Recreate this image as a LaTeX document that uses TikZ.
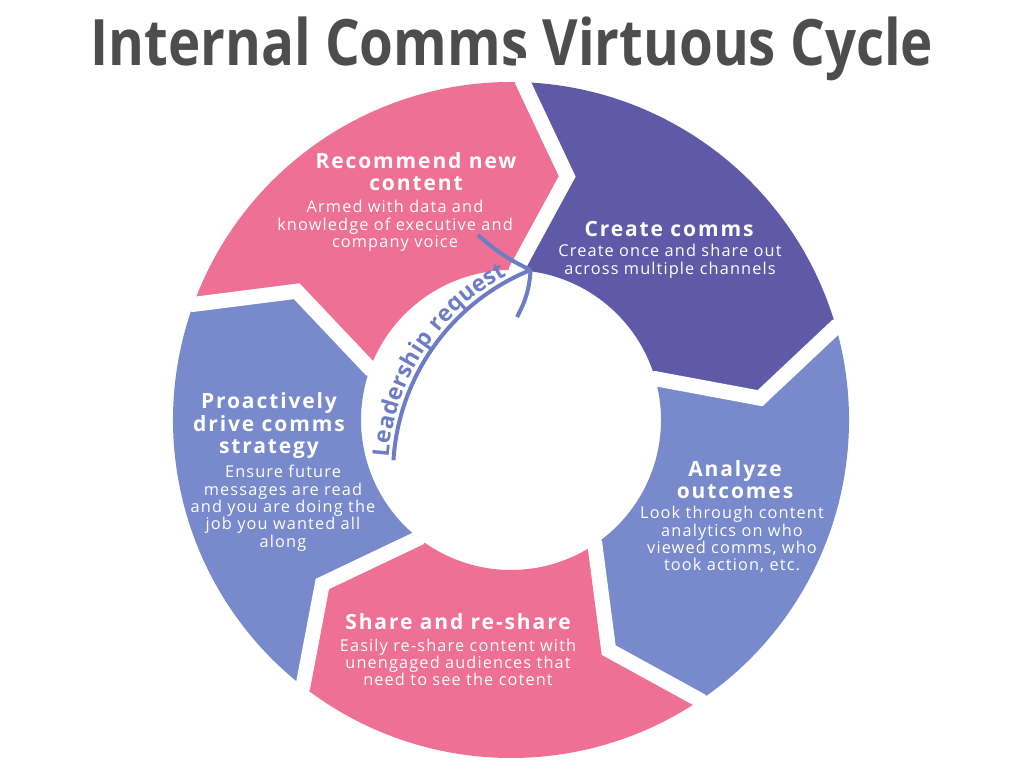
\documentclass[tikz,border=0pt]{standalone}
\usepackage{fontspec}
\usepackage{graphicx}
\setmainfont{Open Sans}
\newfontfamily\headfont[LetterSpace=9]{Open Sans}
\newfontfamily\descfont[LetterSpace=7]{Open Sans}
\newfontfamily\arcfont[LetterSpace=3]{Open Sans}
\usetikzlibrary{decorations.text,calc}
\definecolor{cpink}{HTML}{EE7094}
\definecolor{cpurple}{HTML}{5F5AA8}
\definecolor{cblue}{HTML}{7889CC}
\definecolor{carc}{HTML}{6C7DC6}
\definecolor{ctitle}{HTML}{4D4D4D}
\newcommand\mlines[1]{\begin{tabular}[t]{@{}c@{}}#1\end{tabular}}
\begin{document}
\begin{tikzpicture}[x=1pt,y=1pt,
  head/.style={text=white, font=\headfont\bfseries\fontsize{21}{22}\selectfont, inner sep=0pt, anchor=base},
  desc/.style={text=white, font=\descfont\fontsize{16.3}{16.3}\selectfont, inner sep=0pt, anchor=base},
  gapline/.style={white, line width=15pt, line join=miter, miter limit=10},
  arcline/.style={carc, line width=4pt},
]
\useasboundingbox (0,0) rectangle (1024,768);
% title
\node[anchor=base, text=ctitle, inner sep=0pt, font=\bfseries\fontsize{64}{70}\selectfont] (title) at (512,702) {\scalebox{0.854}[1]{Internal Comms Virtuous Cycle}};
% ring segments
\begin{scope}[shift={(511,348)}]
\foreach \a/\c in {88/cpurple, 16/cblue, -56/cpink, -128/cblue, 160/cpink}{
  \pgfmathsetmacro{\b}{\a-72}
  \fill[\c] (\a:338) arc[start angle=\a, end angle=\b, radius=338]
     -- (\b-11:250) -- (\b:150) arc[start angle=\b, end angle=\a, radius=150]
     -- (\a-11:250) -- cycle;
}
\foreach \a in {88, 16, -56, -128, 160}{
  \draw[gapline] (\a:362) -- (\a:338) -- (\a-11:250) -- (\a:150) -- (\a:135);
}
\end{scope}
% leadership arc
\coordinate (ac) at (613,294);
\coordinate (junc) at ($(ac)+(112:220)$);
\coordinate (arcstart) at ($(ac)+(176.4:220)$);
\coordinate (upl) at (478,533);
\coordinate (dwn) at (517,451);
\draw[arcline] (arcstart) arc[start angle=176.4, end angle=112, radius=220];
\draw[arcline] (upl) to[bend right=8] (junc);
\draw[arcline] (junc) to[bend left=12] (dwn);
\path[decorate, decoration={text along path, text align={left, left indent=2pt}, raise=5pt,
   text={|\arcfont\bfseries\fontsize{23}{25}\selectfont\color{carc}|Leadership request}}]
   (arcstart) arc[start angle=176.4, end angle=112, radius=220];
% texts
\node[head] (h1) at (416,599) {\mlines{Recommend new\\content}};
\node[desc] (d1) at (395,555) {\mlines{Armed with data and\\knowledge of executive and\\company voice}};
\node[head] (h2) at (669,531) {Create comms};
\node[desc] (d2) at (670,511) {\mlines{Create once and share out\\across multiple channels}};
\node[head] (h3) at (735,291) {\mlines{Analyze\\outcomes}};
\node[desc] (d3) at (732,249) {\mlines{Look through content\\analytics on who\\viewed comms, who\\took action, etc.}};
\node[head] (h4) at (458,139) {Share and re-share};
\node[desc] (d4) at (458,117) {\mlines{Easily re-share content with\\unengaged audiences that\\need to see the cotent}};
\node[head] (h5) at (269,359) {\mlines{Proactively\\drive comms\\strategy}};
\node[desc] (d5) at (283,290) {\mlines{Ensure future\\messages are read\\and you are doing the\\job you wanted all\\along}};
\end{tikzpicture}
\end{document}
